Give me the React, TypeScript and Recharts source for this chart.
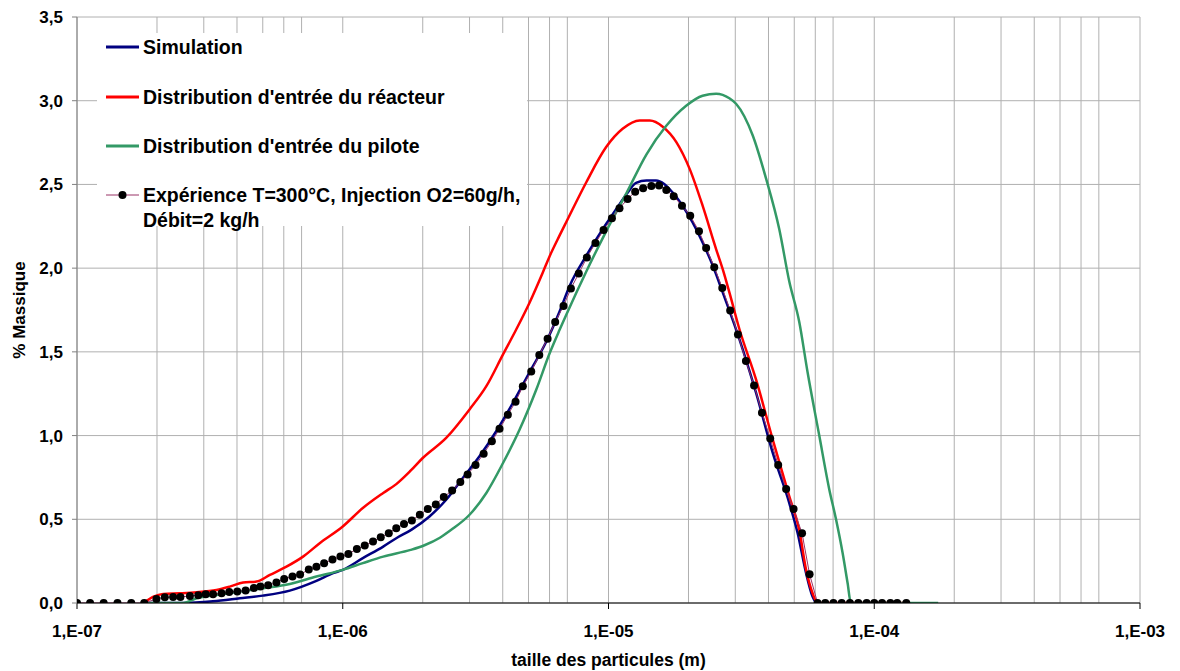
import React from 'react';
import { LineChart, Line, XAxis, YAxis, CartesianGrid, Legend } from 'recharts';

// ---------- data ----------
const EXP_X = [
  1.00e-7, 1.12e-7, 1.26e-7, 1.42e-7, 1.60e-7, 1.79e-7, 1.99e-7, 2.14e-7, 2.30e-7, 2.45e-7,
  2.66e-7, 2.86e-7, 3.05e-7, 3.25e-7, 3.50e-7, 3.74e-7, 4.01e-7, 4.31e-7, 4.63e-7, 4.90e-7,
  5.24e-7, 5.63e-7, 6.02e-7, 6.47e-7, 6.91e-7, 7.45e-7, 7.96e-7, 8.51e-7, 9.15e-7, 9.80e-7,
  1.05e-6, 1.13e-6, 1.21e-6, 1.30e-6, 1.39e-6, 1.49e-6, 1.59e-6, 1.70e-6, 1.82e-6, 1.95e-6,
  2.09e-6, 2.24e-6, 2.40e-6, 2.58e-6, 2.77e-6, 2.95e-6, 3.16e-6, 3.39e-6, 3.64e-6, 3.89e-6,
  4.18e-6, 4.47e-6, 4.76e-6, 5.12e-6, 5.49e-6, 5.90e-6, 6.30e-6, 6.77e-6, 7.22e-6, 7.73e-6,
  8.29e-6, 8.93e-6, 9.58e-6, 1.03e-5, 1.10e-5, 1.18e-5, 1.26e-5, 1.35e-5, 1.45e-5, 1.55e-5,
  1.65e-5, 1.76e-5, 1.89e-5, 2.03e-5, 2.19e-5, 2.33e-5, 2.50e-5, 2.68e-5, 2.87e-5, 3.07e-5,
  3.29e-5, 3.53e-5, 3.78e-5, 4.06e-5, 4.35e-5, 4.66e-5, 4.97e-5, 5.35e-5, 5.71e-5, 6.12e-5,
  6.54e-5, 7.02e-5, 7.54e-5, 8.10e-5, 8.71e-5, 9.36e-5, 1.00e-4, 1.07e-4, 1.15e-4, 1.22e-4,
  1.32e-4,
];
const EXP_Y = [
  0, 0, 0, 0, 0, 0, 0.024, 0.034, 0.036, 0.036,
  0.042, 0.046, 0.052, 0.052, 0.058, 0.066, 0.068, 0.074, 0.09, 0.098,
  0.106, 0.122, 0.144, 0.158, 0.17, 0.2, 0.217, 0.238, 0.26, 0.277,
  0.293, 0.323, 0.343, 0.367, 0.393, 0.417, 0.447, 0.472, 0.493, 0.527,
  0.561, 0.589, 0.633, 0.672, 0.723, 0.768, 0.824, 0.892, 0.966, 1.04,
  1.124, 1.202, 1.295, 1.383, 1.481, 1.579, 1.678, 1.774, 1.878, 1.968,
  2.064, 2.15, 2.228, 2.298, 2.357, 2.413, 2.457, 2.477, 2.491, 2.493,
  2.467, 2.429, 2.373, 2.313, 2.22, 2.12, 2.006, 1.881, 1.747, 1.603,
  1.445, 1.299, 1.136, 0.982, 0.824, 0.681, 0.561, 0.417, 0.172, 0,
  0, 0, 0, 0, 0, 0, 0, 0, 0, 0,
  0,
];

const SIM_X = [
  1.79e-7, 2.50e-7, 3.25e-7, 4.10e-7, 5.00e-7, 6.32e-7, 7.96e-7, 9.20e-7, 1.00e-6, 1.19e-6,
  1.42e-6, 1.59e-6, 1.81e-6, 2.12e-6, 2.45e-6, 2.83e-6, 3.27e-6, 3.78e-6, 4.37e-6, 5.05e-6,
  5.83e-6, 6.54e-6, 7.14e-6, 8.25e-6, 9.52e-6, 1.07e-5, 1.17e-5, 1.27e-5, 1.39e-5, 1.51e-5,
  1.62e-5, 1.74e-5, 1.90e-5, 2.07e-5, 2.26e-5, 2.47e-5, 2.69e-5, 3.11e-5, 3.59e-5, 4.15e-5,
  4.79e-5, 5.15e-5, 5.54e-5, 5.86e-5, 6.04e-5,
];
const SIM_Y = [
  0, 0, 0.01, 0.028, 0.044, 0.074, 0.132, 0.178, 0.198, 0.268,
  0.337, 0.387, 0.437, 0.517, 0.617, 0.747, 0.876, 1.026, 1.196, 1.379,
  1.56, 1.74, 1.894, 2.074, 2.234, 2.353, 2.443, 2.509, 2.523, 2.523,
  2.503, 2.453, 2.373, 2.274, 2.154, 2.014, 1.855, 1.575, 1.256, 0.896,
  0.597, 0.417, 0.178, 0.038, 0,
];

const REACT_X = [
  1.78e-7, 1.94e-7, 2.11e-7, 2.44e-7, 2.82e-7, 3.35e-7, 3.76e-7, 4.22e-7, 4.74e-7, 5.32e-7,
  6.14e-7, 7.09e-7, 8.19e-7, 1.00e-6, 1.19e-6, 1.42e-6, 1.59e-6, 1.80e-6, 2.00e-6, 2.45e-6,
  3.00e-6, 3.47e-6, 4.01e-6, 4.50e-6, 5.05e-6, 5.66e-6, 6.00e-6, 6.54e-6, 6.93e-6, 8.25e-6,
  9.80e-6, 1.13e-5, 1.31e-5, 1.43e-5, 1.60e-5, 1.80e-5, 2.02e-5, 2.26e-5, 2.54e-5, 2.69e-5,
  2.85e-5, 3.11e-5, 3.59e-5, 4.15e-5, 4.79e-5, 5.22e-5, 5.54e-5, 5.86e-5, 6.12e-5, 1.32e-4,
];
const REACT_Y = [
  0, 0.038, 0.054, 0.058, 0.064, 0.078, 0.098, 0.122, 0.128, 0.168,
  0.217, 0.277, 0.357, 0.457, 0.567, 0.657, 0.71, 0.79, 0.866, 0.986,
  1.156, 1.295, 1.485, 1.635, 1.795, 1.974, 2.07, 2.194, 2.274, 2.513,
  2.723, 2.832, 2.882, 2.882, 2.845, 2.753, 2.593, 2.373, 2.114, 1.994,
  1.855, 1.635, 1.335, 0.976, 0.637, 0.437, 0.198, 0.058, 0, 0,
];

const PILOT_X = [
  1.79e-7, 2.51e-7, 2.82e-7, 3.35e-7, 4.10e-7, 5.02e-7, 6.32e-7, 7.96e-7, 1.00e-6, 1.19e-6,
  1.42e-6, 1.80e-6, 2.03e-6, 2.32e-6, 2.56e-6, 3.00e-6, 3.47e-6, 4.01e-6, 4.63e-6, 5.35e-6,
  6.00e-6, 6.54e-6, 6.93e-6, 8.25e-6, 9.80e-6, 1.17e-5, 1.39e-5, 1.65e-5, 1.96e-5, 2.26e-5,
  2.54e-5, 2.85e-5, 3.02e-5, 3.49e-5, 3.92e-5, 4.39e-5, 4.79e-5, 5.22e-5, 5.61e-5, 6.21e-5,
  6.77e-5, 7.18e-5, 7.60e-5, 7.94e-5, 8.17e-5, 1.74e-4,
];
const PILOT_Y = [
  0, 0, 0.028, 0.048, 0.068, 0.088, 0.114, 0.158, 0.198, 0.238,
  0.277, 0.317, 0.345, 0.39, 0.437, 0.527, 0.657, 0.836, 1.036, 1.275,
  1.49, 1.63, 1.72, 1.98, 2.22, 2.45, 2.68, 2.85, 2.97, 3.03,
  3.042, 3.015, 2.982, 2.792, 2.533, 2.234, 1.92, 1.68, 1.38, 1.0,
  0.68, 0.5, 0.3, 0.118, 0, 0,
];

const X_TICKS = [1e-7, 1e-6, 1e-5, 1e-4, 1e-3];
const X_TICK_LABELS = ['1,E-07', '1,E-06', '1,E-05', '1,E-04', '1,E-03'];
const Y_TICKS = [0, 0.5, 1, 1.5, 2, 2.5, 3, 3.5];
const GRID_DECADES = [1e-7, 1e-6, 1e-5, 1e-4];
const GRID_MULTS = [1, 2, 3, 4, 5, 6, 7, 8, 9];
const GRID_X = [...GRID_DECADES.flatMap((d) => GRID_MULTS.map((m) => m * d)), 1e-3];

const SERIES_NAMES = [
  'Simulation',
  "Distribution d'entrée du réacteur",
  "Distribution d'entrée du pilote",
  'Expérience T=300°C, Injection O2=60g/h,',
];
const EXP_NAME_LINE2 = 'Débit=2 kg/h';

const COLORS = { sim: '#000080', react: '#ff0000', pilot: '#339966', exp: '#993366' };

const toPoints = (xs: number[], ys: number[]) => xs.map((x, i) => ({ x, y: ys[i] }));
const simData = toPoints(SIM_X, SIM_Y);
const reactData = toPoints(REACT_X, REACT_Y);
const pilotData = toPoints(PILOT_X, PILOT_Y);
const expData = toPoints(EXP_X, EXP_Y);

const FONT = '"Liberation Sans", Arial, sans-serif';

const LegendBox = () => {
  const rows = [
    { name: SERIES_NAMES[0], color: COLORS.sim, top: 14, dot: false },
    { name: SERIES_NAMES[1], color: COLORS.react, top: 64, dot: false },
    { name: SERIES_NAMES[2], color: COLORS.pilot, top: 113, dot: false },
    { name: SERIES_NAMES[3], color: COLORS.exp, top: 162, dot: true },
  ];
  return (
    <div
      style={{
        width: 430,
        height: 193,
        background: '#ffffff',
        position: 'relative',
        fontFamily: FONT,
        fontWeight: 'bold',
        fontSize: 19.5,
        color: '#000',
      }}
    >
      {rows.map((r) => (
        <div key={r.name} style={{ position: 'absolute', left: 9, top: r.top - 11, height: 22, display: 'flex', alignItems: 'center', whiteSpace: 'nowrap' }}>
          <svg width={34} height={10} style={{ marginRight: 3 }}>
            <line x1={0} y1={5} x2={33} y2={5} stroke={r.color} strokeWidth={r.dot ? 1 : 3} />
            {r.dot && <circle cx={16.5} cy={5} r={4} fill="#000" />}
          </svg>
          <span>{r.name}</span>
        </div>
      ))}
      <div style={{ position: 'absolute', left: 46, top: 176, height: 22, lineHeight: '22px', whiteSpace: 'nowrap' }}>
        {EXP_NAME_LINE2}
      </div>
    </div>
  );
};

const YLabel = (props: any) => {
  const vb = props.viewBox || { x: 0, y: 17, width: 77, height: 586 };
  const cx = vb.x + 19;
  const cy = vb.y + vb.height / 2;
  return (
    <text
      x={cx}
      y={cy}
      transform={`rotate(-90, ${cx}, ${cy})`}
      textAnchor="middle"
      dominantBaseline="central"
      fontFamily={FONT}
      fontWeight="bold"
      fontSize={17}
      fill="#000"
    >
      % Massique
    </text>
  );
};

const XLabel = (props: any) => {
  const vb = props.viewBox || { x: 77, y: 603, width: 1063, height: 68 };
  return (
    <text
      x={vb.x + vb.width / 2}
      y={vb.y + 63}
      textAnchor="middle"
      fontFamily={FONT}
      fontWeight="bold"
      fontSize={17.5}
      fill="#000"
    >
      taille des particules (m)
    </text>
  );
};

export default function App() {
  return (
    <div style={{ position: 'absolute', left: 0, top: 0, width: 1180, height: 671, background: '#fff' }}>
      <LineChart width={1180} height={671} margin={{ top: 17, right: 40, bottom: 0, left: 0 }}>
        <CartesianGrid
          stroke="#b0b0b0"
          strokeWidth={1}
          verticalValues={GRID_X}
          horizontalValues={Y_TICKS}
        />
        <XAxis
          dataKey="x"
          type="number"
          scale="log"
          domain={[1e-7, 1e-3]}
          allowDataOverflow
          ticks={X_TICKS}
          tickFormatter={(v: number) => X_TICK_LABELS[X_TICKS.findIndex((t) => Math.abs(t - v) / t < 1e-6)] ?? ''}
          height={68}
          tickSize={6}
          tickMargin={16}
          axisLine={{ stroke: '#000', strokeWidth: 1 }}
          tickLine={{ stroke: '#000' }}
          tick={{ fontFamily: FONT, fontWeight: 'bold', fontSize: 17, fill: '#000' }}
          label={{ content: XLabel }}
        />
        <YAxis
          type="number"
          domain={[0, 3.5]}
          ticks={Y_TICKS}
          allowDataOverflow
          width={77}
          tickSize={5}
          tickMargin={9}
          tickFormatter={(v: number) => v.toFixed(1).replace('.', ',')}
          axisLine={{ stroke: '#808080', strokeWidth: 1 }}
          tickLine={{ stroke: '#808080' }}
          tick={{ fontFamily: FONT, fontWeight: 'bold', fontSize: 17, fill: '#000' }}
          label={{ content: YLabel }}
        />
        <Line data={simData} dataKey="y" name={SERIES_NAMES[0]} type="monotone" stroke={COLORS.sim} strokeWidth={2.5} dot={false} isAnimationActive={false} />
        <Line data={reactData} dataKey="y" name={SERIES_NAMES[1]} type="monotone" stroke={COLORS.react} strokeWidth={2.5} dot={false} isAnimationActive={false} />
        <Line data={pilotData} dataKey="y" name={SERIES_NAMES[2]} type="monotone" stroke={COLORS.pilot} strokeWidth={2.5} dot={false} isAnimationActive={false} />
        <Line
          data={expData}
          dataKey="y"
          name={SERIES_NAMES[3]}
          type="linear"
          stroke={COLORS.exp}
          strokeWidth={1}
          dot={{ r: 4, fill: '#000', stroke: '#000', strokeWidth: 0 }}
          isAnimationActive={false}
        />
        <Legend
          layout="horizontal"
          verticalAlign="middle"
          align="center"
          content={() => <LegendBox />}
          wrapperStyle={{ left: 97, top: 33, width: 430, height: 193 }}
        />
      </LineChart>
    </div>
  );
}
